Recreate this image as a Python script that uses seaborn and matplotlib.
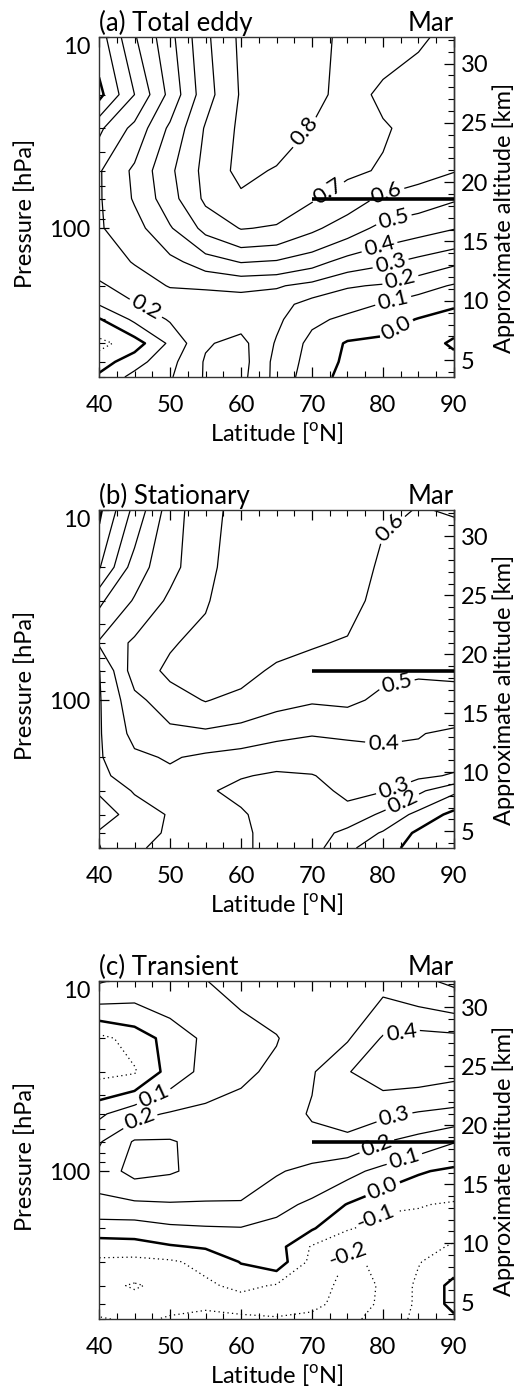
import numpy as np
import matplotlib
matplotlib.use("Agg")
import matplotlib.pyplot as plt
import seaborn as sns
from matplotlib.ticker import MultipleLocator, FixedLocator, LogLocator, NullFormatter, FuncFormatter

# grid of the eddy fields (latitude x pressure)
lats = [40, 45, 50, 55, 60, 65, 70, 75, 80, 85, 90]
pressures = [10, 20, 30, 50, 70, 100, 150, 200, 250, 300, 400, 500, 600]

total_eddy = [
    [0.05, 0.29, 0.47, 0.68, 0.82, 0.86, 0.84, 0.77, 0.74, 0.71, 0.68],
    [-0.03, 0.20, 0.43, 0.66, 0.81, 0.87, 0.85, 0.74, 0.68, 0.66, 0.64],
    [0.18, 0.33, 0.52, 0.71, 0.82, 0.86, 0.79, 0.75, 0.71, 0.67, 0.64],
    [0.29, 0.42, 0.58, 0.73, 0.83, 0.79, 0.76, 0.72, 0.69, 0.64, 0.605],
    [0.29, 0.41, 0.56, 0.72, 0.78, 0.76, 0.71, 0.65, 0.58, 0.55, 0.51],
    [0.29, 0.36, 0.49, 0.63, 0.705, 0.69, 0.62, 0.55, 0.47, 0.44, 0.405],
    [0.26, 0.305, 0.37, 0.45, 0.505, 0.49, 0.44, 0.36, 0.32, 0.27, 0.22],
    [0.18, 0.26, 0.305, 0.31, 0.32, 0.31, 0.27, 0.21, 0.19, 0.14, 0.09],
    [0.105, 0.19, 0.25, 0.26, 0.26, 0.24, 0.16, 0.13, 0.095, 0.05, 0.01],
    [-0.01, 0.12, 0.21, 0.23, 0.26, 0.22, 0.12, 0.08, 0.04, -0.005, -0.03],
    [-0.13, -0.05, 0.12, 0.29, 0.33, 0.19, 0.07, -0.01, -0.02, -0.03, 0.01],
    [-0.05, 0.06, 0.17, 0.31, 0.34, 0.17, 0.06, -0.02, -0.04, -0.03, -0.02],
    [0.02, 0.13, 0.19, 0.31, 0.33, 0.17, 0.04, -0.03, -0.05, -0.04, -0.03],
]

stationary = [
    [-0.02, 0.23, 0.45, 0.57, 0.63, 0.65, 0.66, 0.64, 0.61, 0.598, 0.603],
    [0.09, 0.35, 0.47, 0.57, 0.66, 0.67, 0.67, 0.66, 0.58, 0.56, 0.57],
    [0.28, 0.41, 0.52, 0.59, 0.67, 0.68, 0.66, 0.64, 0.56, 0.55, 0.55],
    [0.41, 0.52, 0.59, 0.63, 0.68, 0.64, 0.61, 0.59, 0.55, 0.53, 0.52],
    [0.295, 0.55, 0.62, 0.64, 0.64, 0.58, 0.56, 0.56, 0.52, 0.51, 0.51],
    [0.29, 0.47, 0.56, 0.605, 0.57, 0.53, 0.51, 0.52, 0.48, 0.47, 0.48],
    [0.29, 0.43, 0.47, 0.48, 0.46, 0.43, 0.405, 0.41, 0.42, 0.405, 0.38],
    [0.29, 0.38, 0.41, 0.38, 0.36, 0.33, 0.35, 0.37, 0.37, 0.38, 0.34],
    [0.27, 0.36, 0.38, 0.34, 0.305, 0.29, 0.295, 0.34, 0.33, 0.32, 0.29],
    [0.21, 0.31, 0.35, 0.31, 0.28, 0.27, 0.27, 0.32, 0.305, 0.22, 0.12],
    [0.15, 0.24, 0.31, 0.32, 0.31, 0.26, 0.25, 0.27, 0.18, 0.07, -0.03],
    [0.21, 0.27, 0.31, 0.33, 0.32, 0.26, 0.25, 0.17, 0.09, -0.02, -0.05],
    [0.195, 0.29, 0.32, 0.33, 0.32, 0.26, 0.24, 0.12, 0.04, -0.04, -0.06],
]

transient = [
    [0.21, 0.17, 0.18, 0.198, 0.23, 0.25, 0.26, 0.27, 0.27, 0.22, 0.18],
    [-0.13, -0.06, 0.04, 0.12, 0.16, 0.195, 0.26, 0.29, 0.41, 0.44, 0.43],
    [-0.13, -0.11, 0.04, 0.13, 0.18, 0.22, 0.29, 0.395, 0.45, 0.45, 0.43],
    [0.08, 0.17, 0.21, 0.23, 0.24, 0.25, 0.31, 0.35, 0.32, 0.29, 0.27],
    [0.19, 0.31, 0.31, 0.26, 0.24, 0.24, 0.27, 0.27, 0.205, 0.16, 0.105],
    [0.25, 0.33, 0.31, 0.27, 0.26, 0.21, 0.17, 0.13, 0.07, 0.01, -0.02],
    [0.17, 0.18, 0.19, 0.19, 0.19, 0.13, 0.08, -0.005, -0.08, -0.095, -0.11],
    [0.05, 0.05, 0.08, 0.09, 0.095, 0.07, 0.01, -0.09, -0.14, -0.13, -0.13],
    [-0.05, -0.04, -0.01, 0.01, 0.03, 0.04, -0.11, -0.19, -0.195, -0.13, -0.09],
    [-0.12, -0.13, -0.115, -0.07, 0.005, 0.06, -0.13, -0.21, -0.19, -0.105, -0.05],
    [-0.17, -0.21, -0.17, -0.12, -0.07, -0.11, -0.17, -0.22, -0.195, -0.08, 0.03],
    [-0.15, -0.16, -0.17, -0.18, -0.16, -0.15, -0.18, -0.23, -0.19, -0.08, 0.03],
    [-0.21, -0.18, -0.21, -0.23, -0.22, -0.21, -0.22, -0.22, -0.17, -0.07, -0.02],
]

panel_titles = ["(a) Total eddy", "(b) Stationary", "(c) Transient"]
month = "Mar"
marker_lats = [70, 90]
marker_pressure = 70

sns.set_style("ticks")
plt.rcParams["font.family"] = ["Lato", "DejaVu Sans"]
plt.rcParams["mathtext.fontset"] = "custom"
plt.rcParams["mathtext.rm"] = "Lato"
plt.rcParams.update({
    "text.color": "black", "axes.labelcolor": "black",
    "xtick.color": "black", "ytick.color": "black",
    "axes.edgecolor": "#333333", "axes.linewidth": 1.0,
    "lines.dotted_pattern": [1.0, 2.6],
})


def p_to_km(p):
    p = np.clip(np.asarray(p, dtype=float), 1e-6, None)
    return 7.0 * np.log(1000.0 / p)


def km_to_p(z):
    return 1000.0 * np.exp(-np.asarray(z, dtype=float) / 7.0)


plain = FuncFormatter(lambda v, _: f"{v:g}")

# where the contour labels sit (lat, hPa)
label_spots = [
    [(68.5, 30), (72, 62), (80.5, 66), (81.5, 90), (79.5, 125), (81, 150),
     (82.5, 190), (81.5, 245), (82, 340), (46.5, 265)],
    [(81.5, 13), (82, 85), (80, 162), (81.5, 290), (82.5, 330)],
    [(82.5, 17.5), (81.5, 50), (79, 72), (83, 86), (80, 125), (78.5, 160),
     (75, 270), (47.5, 39), (45.5, 50)],
]

fig = plt.figure(figsize=(5.3, 13.87), dpi=100)
rects = [
    [0.1868, 0.7282, 0.6698, 0.2451],
    [0.1868, 0.3886, 0.6698, 0.2437],
    [0.1868, 0.0490, 0.6698, 0.2437],
]
fields = [total_eddy, stationary, transient]

for field, title, rect, spots in zip(fields, panel_titles, rects, label_spots):
    ax = fig.add_axes(rect)
    z = np.array(field)
    ax.set_yscale("log")
    ax.set_xlim(40, 90)
    ax.set_ylim(600, 10)

    levels = np.arange(np.ceil(z.min() * 10), np.floor(z.max() * 10) + 1) / 10 + 0.0
    widths = [1.8 if lev == 0 else 0.9 for lev in levels]
    styles = ["dotted" if lev < 0 else "solid" for lev in levels]
    cs = ax.contour(lats, pressures, z, levels=levels, colors="black",
                    linewidths=widths, linestyles=styles)
    ax.clabel(cs, manual=spots, inline=True, inline_spacing=3, fmt="%.1f", fontsize=16)

    ax.hlines(marker_pressure, marker_lats[0], marker_lats[1], colors="black",
              linewidth=2.6, zorder=6)

    ax.xaxis.set_major_locator(MultipleLocator(10))
    ax.xaxis.set_minor_locator(MultipleLocator(2.5))
    ax.yaxis.set_major_locator(FixedLocator([10, 100]))
    ax.yaxis.set_major_formatter(plain)
    ax.yaxis.set_minor_locator(LogLocator(base=10, subs=np.arange(2, 10)))
    ax.yaxis.set_minor_formatter(NullFormatter())

    ax.tick_params(which="both", direction="in", top=True, right=False, labelsize=17)
    ax.tick_params(which="major", length=7, width=0.9)
    ax.tick_params(which="minor", length=4, width=0.8)
    ax.tick_params(axis="x", pad=13)
    ax.tick_params(axis="y", pad=6)
    ax.yaxis.get_major_ticks()[0].label1.set_verticalalignment("top")

    sec = ax.secondary_yaxis("right", functions=(p_to_km, km_to_p))
    sec.yaxis.set_major_locator(FixedLocator([5, 10, 15, 20, 25, 30]))
    sec.yaxis.set_major_formatter(plain)
    sec.yaxis.set_minor_locator(MultipleLocator(1))
    sec.yaxis.set_minor_formatter(NullFormatter())
    sec.tick_params(which="both", direction="in", labelsize=17, pad=5)
    sec.tick_params(which="major", length=7, width=0.9)
    sec.tick_params(which="minor", length=4, width=0.8)
    sec.set_ylabel("Approximate altitude [km]", fontsize=17, labelpad=3)
    sec.yaxis.label.set_y(0.468)

    ax.set_ylabel("Pressure [hPa]", fontsize=17, labelpad=10)
    ax.yaxis.label.set_y(0.482)
    ax.set_xlabel(r"Latitude [$^{\rm o}$N]", fontsize=17, labelpad=3)
    ax.set_title(title, loc="left", fontsize=18.5, pad=4)
    ax.set_title(month, loc="right", fontsize=18.5, pad=4)

fig.savefig("out.png", dpi=100)
